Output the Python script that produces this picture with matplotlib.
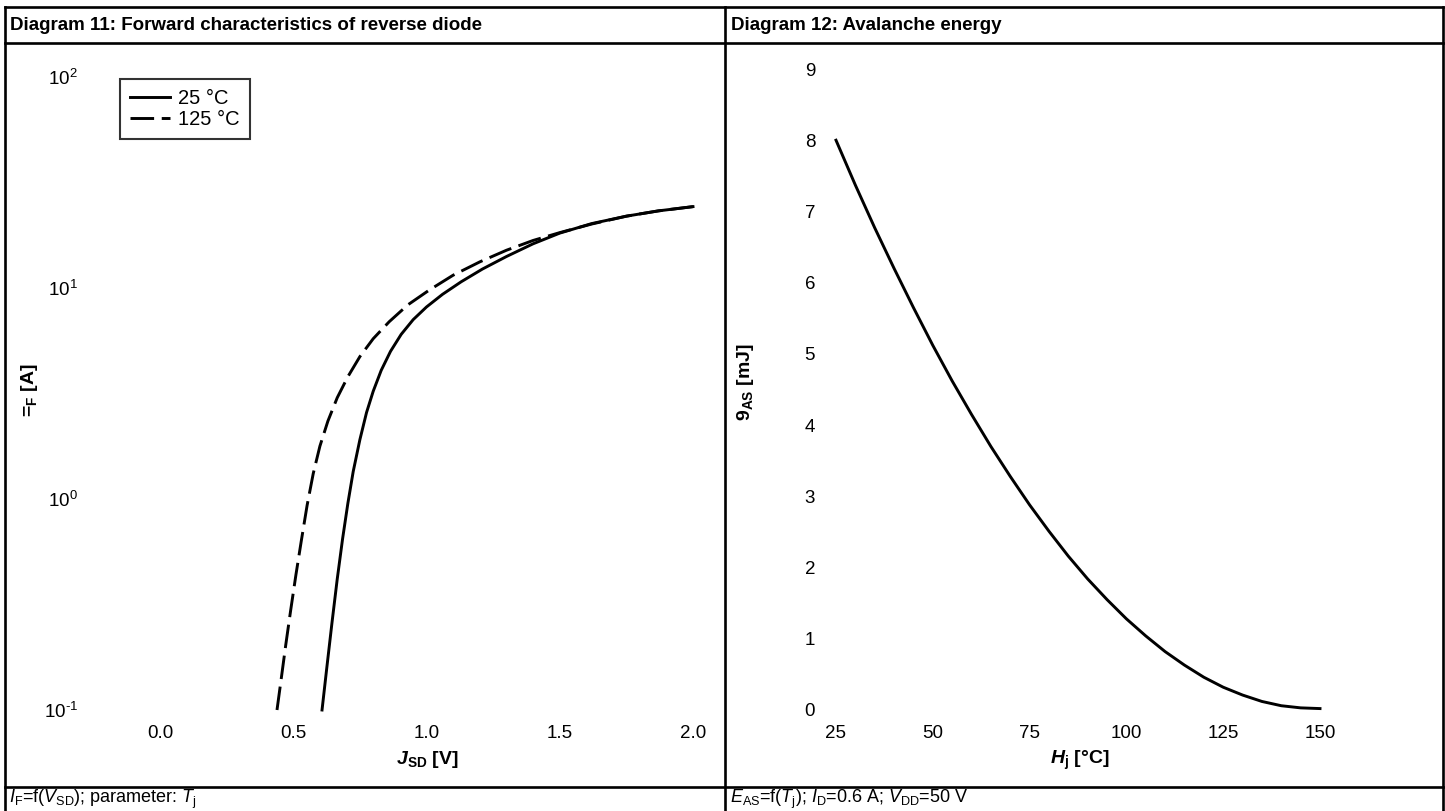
import matplotlib
matplotlib.use("Agg")
import matplotlib.pyplot as plt
from matplotlib.ticker import FixedLocator, LogLocator, FuncFormatter, NullLocator
import numpy as np

FONT = 'Liberation Sans'
plt.rcParams['font.family'] = [FONT, 'DejaVu Sans']
plt.rcParams['mathtext.fontset'] = 'custom'
plt.rcParams['mathtext.rm'] = FONT
plt.rcParams['mathtext.it'] = FONT + ':italic'
plt.rcParams['mathtext.bf'] = FONT + ':bold'
plt.rcParams['mathtext.bfit'] = FONT + ':bold:italic'
plt.rcParams['mathtext.default'] = 'regular'
plt.rcParams['axes.unicode_minus'] = False
plt.rcParams['lines.scale_dashes'] = False

# ---- data: Diagram 11 (forward characteristics of reverse diode) ----
vsd_25 = [0.608, 0.625, 0.645, 0.665, 0.685, 0.705, 0.725, 0.750, 0.775, 0.800, 0.830, 0.865, 0.905,
          0.950, 1.000, 1.060, 1.130, 1.210, 1.300, 1.400, 1.500, 1.620, 1.750, 1.870, 2.000]
if_25 = [0.100, 0.155, 0.257, 0.417, 0.646, 0.955, 1.35, 1.91, 2.57, 3.24, 4.07, 5.01, 6.03,
         7.08, 8.13, 9.33, 10.7, 12.3, 14.1, 16.2, 18.2, 20.2, 21.9, 23.2, 24.3]
vsd_125 = [0.439, 0.455, 0.472, 0.490, 0.510, 0.530, 0.552, 0.575, 0.600, 0.630, 0.665, 0.705, 0.750,
           0.800, 0.860, 0.930, 1.010, 1.100, 1.200, 1.300, 1.400, 1.500, 1.620, 1.750, 1.870, 2.000]
if_125 = [0.100, 0.141, 0.204, 0.295, 0.437, 0.631, 0.933, 1.32, 1.78, 2.34, 3.02, 3.80, 4.73,
          5.75, 6.92, 8.32, 9.77, 11.5, 13.3, 15.1, 16.8, 18.3, 20.1, 21.9, 23.2, 24.3]
series_labels = ['25 °C', '125 °C']
x_ticks_11 = [0.0, 0.5, 1.0, 1.5, 2.0]

# ---- data: Diagram 12 (avalanche energy) ----
tj = [25, 30, 35, 40, 45, 50, 55, 60, 65, 70, 75, 80, 85, 90, 95, 100, 105, 110, 115, 120, 125, 130, 135, 140, 145, 150]
eas = [8.0, 7.37, 6.77, 6.2, 5.65, 5.12, 4.62, 4.15, 3.7, 3.28, 2.88, 2.51, 2.16, 1.84, 1.55, 1.28, 1.04, 0.82, 0.63, 0.46, 0.32, 0.21, 0.12, 0.06, 0.03, 0.02]
x_ticks_12 = [25, 50, 75, 100, 125, 150]
y_ticks_12 = [0, 1, 2, 3, 4, 5, 6, 7, 8, 9]

W, H = 1445, 811
fig = plt.figure(figsize=(W / 100, H / 100), dpi=100)

# overlay in pixel coordinates for the table frame and texts
ov = fig.add_axes([0, 0, 1, 1], zorder=0)
ov.set_xlim(0, W)
ov.set_ylim(H, 0)
ov.axis('off')
lw_frame = 1.9
for (x0, y0, x1, y1) in [(5, 7, 1443, 7), (5, 43, 1443, 43), (5, 787, 1443, 787),
                         (5, 7, 5, 811), (725, 7, 725, 811), (1443, 7, 1443, 811)]:
    ov.plot([x0, x1], [y0, y1], color='black', lw=lw_frame, solid_capstyle='projecting')

ov.text(10, 25, 'Diagram 11: Forward characteristics of reverse diode', fontsize=13.5,
        fontweight='bold', ha='left', va='center')
ov.text(731, 25, 'Diagram 12: Avalanche energy', fontsize=13.5,
        fontweight='bold', ha='left', va='center')
ov.text(9, 799, r'$\mathit{I}_{\mathrm{F}}$=f($\mathit{V}_{\mathrm{SD}}$); parameter: $\mathit{T}_{\mathrm{j}}$',
        fontsize=13, ha='left', va='center')
ov.text(730, 799, r'$\mathit{E}_{\mathrm{AS}}$=f($\mathit{T}_{\mathrm{j}}$); $\mathit{I}_{\mathrm{D}}$=0.6 A; $\mathit{V}_{\mathrm{DD}}$=50 V',
        fontsize=13, ha='left', va='center')

# axis labels
ov.text(427, 760, r'$\mathbfit{J}_{\mathbf{SD}}$ [V]', fontsize=14, fontweight='bold', ha='center', va='center')
ov.text(1080, 760, r'$\mathbfit{H}_{\mathbf{j}}$ [°C]', fontsize=14, fontweight='bold', ha='center', va='center')
ov.text(30, 390, r'=$_{\mathbf{F}}$ [A]', fontsize=14, fontweight='bold', ha='center', va='center', rotation=90)
ov.text(746, 382, r'9$_{\mathbf{AS}}$ [mJ]', fontsize=14, fontweight='bold', ha='center', va='center', rotation=90)

def fx(px):
    return px / W

def fy(py):
    return 1 - py / H

def log_label(v, pos):
    e = int(round(np.log10(v)))
    s = str(e).replace('-', '\u2010')
    return r'$10^{' + s + '}$'

# ---- left axes ----
ax1 = fig.add_axes([fx(160), fy(710), fx(693) - fx(160), fy(77) - fy(710)], zorder=2)
ax1.patch.set_alpha(0)
ax1.set_yscale('log')
ax1.set_xlim(0, 2)
ax1.set_ylim(0.1, 100)
for s in ax1.spines.values():
    s.set_visible(False)
ax1.xaxis.set_major_locator(FixedLocator(x_ticks_11))
ax1.set_xticklabels([f'{v:.1f}' for v in x_ticks_11])
ax1.yaxis.set_major_locator(LogLocator(base=10, numticks=10))
ax1.yaxis.set_major_formatter(FuncFormatter(log_label))
ax1.yaxis.set_minor_locator(NullLocator())
ax1.tick_params(axis='x', length=0, pad=11, labelsize=13.5)
ax1.tick_params(axis='y', length=0, pad=59, labelsize=13.5)
ax1.tick_params(axis='y', which='minor', length=0)
l1, = ax1.plot(vsd_25, if_25, color='black', lw=2.1, clip_on=False)
l2, = ax1.plot(vsd_125, if_125, color='black', lw=2.1, dashes=(17, 5.5), clip_on=False)
leg = ax1.legend([l1, l2], series_labels, loc='upper left',
                 bbox_to_anchor=(fx(120), fy(79)), bbox_transform=fig.transFigure,
                 prop={'family': FONT, 'size': 14.5}, frameon=True, fancybox=False,
                 handlelength=2.0, handletextpad=0.4, borderpad=0.5, labelspacing=0.1,
                 borderaxespad=0)
leg.get_frame().set_edgecolor('black')
leg.get_frame().set_linewidth(1.5)

# ---- right axes ----
ax2 = fig.add_axes([fx(836), fy(710), fx(1320) - fx(836), fy(69) - fy(710)], zorder=2)
ax2.patch.set_alpha(0)
ax2.set_xlim(25, 150)
ax2.set_ylim(0, 9)
for s in ax2.spines.values():
    s.set_visible(False)
ax2.xaxis.set_major_locator(FixedLocator(x_ticks_12))
ax2.yaxis.set_major_locator(FixedLocator(y_ticks_12))
ax2.tick_params(axis='x', length=0, pad=11, labelsize=13.5)
ax2.tick_params(axis='y', length=0, pad=15, labelsize=13.5)
ax2.plot(tj, eas, color='black', lw=2.1, clip_on=False)

fig.savefig('out.png', dpi=100)
